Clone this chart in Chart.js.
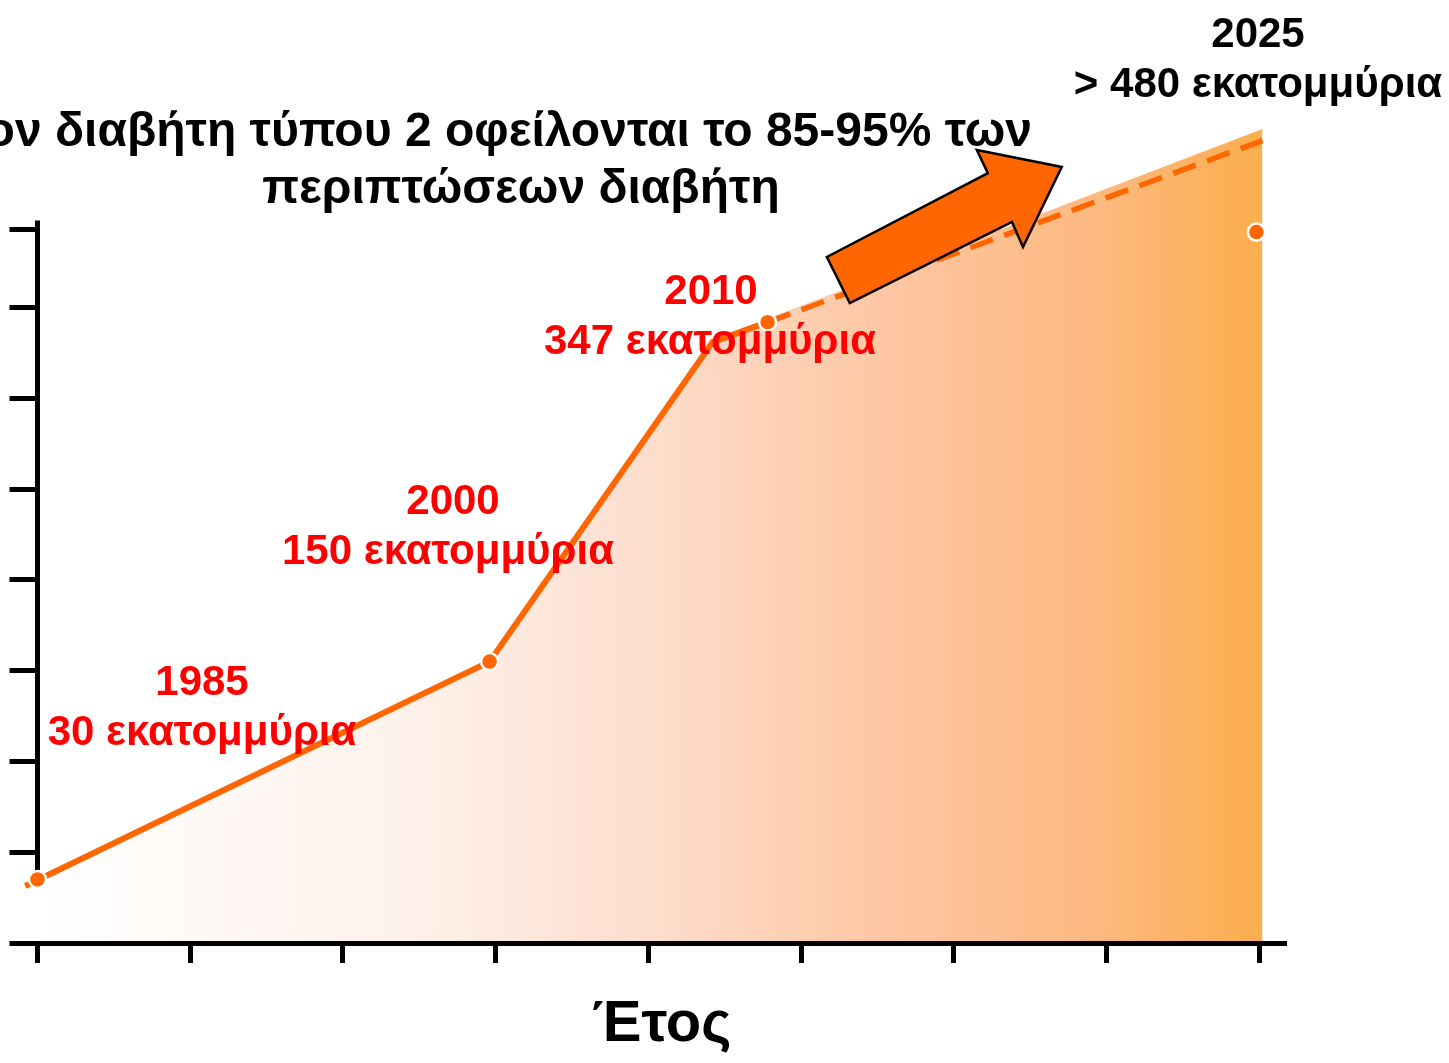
<!DOCTYPE html>
<html lang="el">
<head>
<meta charset="utf-8">
<title>Διαβήτης τύπου 2</title>
<script src="https://cdn.jsdelivr.net/npm/chart.js@4.4.1/dist/chart.umd.min.js"></script>
<style>
  html, body { margin: 0; padding: 0; background: #fff; }
  #wrap { width: 1449px; height: 1063px; position: relative; }
</style>
</head>
<body>
<div id="wrap"><canvas id="chartDiabetes"></canvas></div>
<script>
// --- 1. DATOS ---
const lineaAnios   = [1984.6, 1999.8, 2007.1, 2008.9];
const lineaValores = [31.4, 155, 331, 342];
const proyAnios    = [2008.9, 2025.1];
const proyValores  = [342, 442];
const areaAnios    = [1984.6, 1999.8, 2007.1, 2025.1];
const areaValores  = [31.4, 155, 332.5, 448.4];
const puntosAnios  = [1985, 1999.8, 2008.9, 2024.9];
const puntosValores = [35, 155, 342, 391.6];

const ticksX = [1985, 1990, 1995, 2000, 2005, 2010, 2015, 2020, 2025];
const ticksY = [0, 50, 100, 150, 200, 250, 300, 350, 393];

const etiquetasAnio  = ['1985', '2000', '2010', '2025'];
const etiquetasValor = ['30 εκατομμύρια', '150 εκατομμύρια', '347 εκατομμύρια', '> 480 εκατομμύρια'];
const titulo = ['ον διαβήτη τύπου 2 οφείλονται το 85-95% των', 'περιπτώσεων διαβήτη'];
const tituloEje = 'Έτος';

// --- 2. ESTILO / POSICIONES (decoración) ---
const colores = { naranja: '#FF6600', rojo: '#FF0000', negro: '#000000', blanco: '#FFFFFF' };
const fuente = '"Liberation Sans", Arial, sans-serif';
// [x año, y año, x valor]
const posEtiquetas = [[202, 695, 202], [453, 514, 448], [711, 304, 710], [1258, 47, 1258]];
const colorEtiquetas = [colores.rojo, colores.rojo, colores.rojo, colores.negro];
const ejeYTope = 398;
// flecha en unidades de los ejes
const flecha = [[2010.84, 377.9], [2011.59, 352.5], [2016.9, 397.2], [2017.26, 383.4],
                [2018.53, 427.5], [2015.75, 436.8], [2016.11, 424.1]];

const aPuntos = (xs, ys) => xs.map((x, i) => ({ x: x, y: ys[i] }));

function degradado(c) {
    const chart = c.chart;
    if (!chart.chartArea) return 'rgba(0,0,0,0)';
    const sx = chart.scales.x;
    const g = chart.ctx.createLinearGradient(sx.getPixelForValue(areaAnios[0]), 0,
        sx.getPixelForValue(areaAnios[areaAnios.length - 1]), 0);
    g.addColorStop(0, '#FFFFFF');
    g.addColorStop(0.3, '#FEF2EC');
    g.addColorStop(0.5, '#FDDECE');
    g.addColorStop(0.7, '#FDC6A2');
    g.addColorStop(0.87, '#FDB87F');
    g.addColorStop(1, '#FBAE4C');
    return g;
}

// --- 3. PLUGIN DE ANOTACIONES ---
const anotaciones = {
    id: 'anotaciones',
    beforeDatasetsDraw(chart) {
        // eje Y: termina bajo el primer punto, como en el original
        const { ctx, chartArea, scales: { y } } = chart;
        ctx.save();
        ctx.strokeStyle = colores.negro;
        ctx.lineWidth = 5;
        ctx.beginPath();
        ctx.moveTo(chartArea.left, y.getPixelForValue(ejeYTope));
        ctx.lineTo(chartArea.left, y.getPixelForValue(puntosValores[0]));
        ctx.stroke();
        ctx.restore();
    },
    afterDatasetsDraw(chart) {
        const { ctx, scales: { x, y } } = chart;
        ctx.save();
        ctx.textBaseline = 'alphabetic';
        ctx.font = 'bold 48px ' + fuente;
        ctx.fillStyle = colores.negro;
        ctx.textAlign = 'right';
        ctx.fillText(titulo[0], 1032, 146);
        ctx.textAlign = 'center';
        ctx.fillText(titulo[1], 521, 203);

        ctx.font = 'bold 42px ' + fuente;
        etiquetasAnio.forEach((t, i) => {
            const [px, py, px2] = posEtiquetas[i];
            ctx.fillStyle = colorEtiquetas[i];
            ctx.fillText(t, px, py);
            ctx.fillText(etiquetasValor[i], px2, py + 50);
        });

        // flecha
        ctx.beginPath();
        flecha.forEach(([a, v], i) => {
            const px = x.getPixelForValue(a), py = y.getPixelForValue(v);
            if (i === 0) ctx.moveTo(px, py); else ctx.lineTo(px, py);
        });
        ctx.closePath();
        ctx.fillStyle = colores.naranja;
        ctx.fill();
        ctx.lineWidth = 2.5;
        ctx.lineJoin = 'miter';
        ctx.strokeStyle = colores.negro;
        ctx.stroke();
        ctx.restore();
    }
};

// --- 4. GRÁFICO ---
new Chart(document.getElementById('chartDiabetes'), {
    type: 'line',
    data: {
        datasets: [
            {
                label: 'área',
                data: aPuntos(areaAnios, areaValores),
                fill: 'origin',
                backgroundColor: degradado,
                borderWidth: 0,
                pointRadius: 0,
                order: 4
            },
            {
                label: 'proyección',
                data: aPuntos(proyAnios, proyValores),
                borderColor: colores.naranja,
                borderWidth: 5.5,
                borderDash: [24, 12],
                pointRadius: 0,
                fill: false,
                clip: false,
                order: 3
            },
            {
                label: 'línea',
                data: aPuntos(lineaAnios, lineaValores),
                borderColor: colores.naranja,
                borderWidth: 6,
                pointRadius: 0,
                fill: false,
                clip: false,
                order: 2
            },
            {
                label: 'puntos',
                data: aPuntos(puntosAnios, puntosValores),
                showLine: false,
                pointRadius: 8.5,
                pointBackgroundColor: colores.naranja,
                pointBorderColor: colores.blanco,
                pointBorderWidth: 2.5,
                clip: false,
                order: 1
            }
        ]
    },
    options: {
        responsive: true,
        maintainAspectRatio: false,
        animation: false,
        layout: { padding: { left: 9.5, right: 163, top: 117, bottom: 9 } },
        plugins: { legend: { display: false }, tooltip: { enabled: false } },
        scales: {
            x: {
                type: 'linear',
                min: 1985,
                max: 2025.87,
                afterBuildTicks: s => { s.ticks = ticksX.map(v => ({ value: v })); },
                ticks: { display: false },
                grid: { drawOnChartArea: false, drawTicks: true, tickLength: 20, tickWidth: 5, tickColor: colores.negro },
                border: { display: true, color: colores.negro, width: 5, z: 1 },
                title: {
                    display: true,
                    text: tituloEje,
                    color: colores.negro,
                    font: { family: fuente, size: 58, weight: 'bold', lineHeight: 1 },
                    padding: { top: 33, bottom: 0 }
                }
            },
            y: {
                type: 'linear',
                min: 0,
                max: 455,
                afterBuildTicks: s => { s.ticks = ticksY.map(v => ({ value: v })); },
                ticks: { display: false },
                grid: { drawOnChartArea: false, drawTicks: true, tickLength: 28, tickWidth: 5, tickColor: colores.negro },
                border: { display: false }
            }
        }
    },
    plugins: [anotaciones]
});
</script>
</body>
</html>
